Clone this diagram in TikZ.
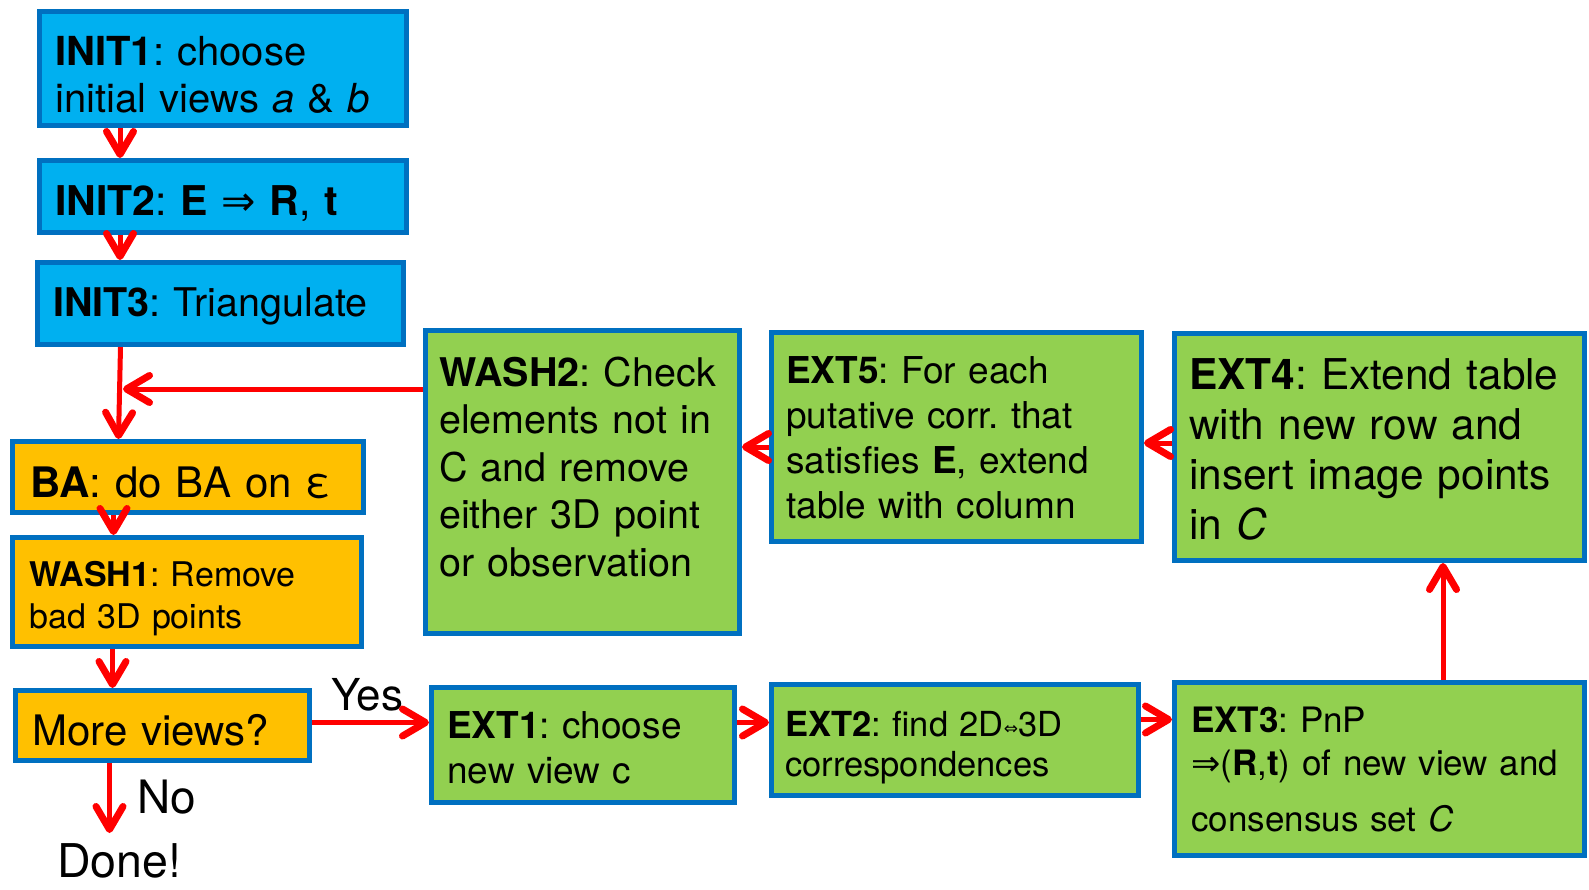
\documentclass[tikz,border=0pt]{standalone}
\usepackage{fontspec}
\setmainfont{TeX Gyre Heros}
\newfontfamily\symf{DejaVu Sans}
\usetikzlibrary{arrows.meta}
\definecolor{boxblue}{HTML}{00B0F0}
\definecolor{edgeblue}{HTML}{0070C0}
\definecolor{stageorange}{HTML}{FFC000}
\definecolor{stagegreen}{HTML}{92D050}
\definecolor{flowred}{HTML}{FF0000}
\newcommand\fs[2]{\fontsize{#1}{#2}\selectfont}
\frenchspacing

\begin{document}
\begin{tikzpicture}[x=1pt,y=-1pt,
  stagebox/.style={draw=edgeblue, line width=5pt, rectangle, inner sep=0pt},
  initbox/.style={stagebox, fill=boxblue},
  babox/.style={stagebox, fill=stageorange},
  extbox/.style={stagebox, fill=stagegreen},
  txt/.style={anchor=base west, inner sep=0pt, align=left},
  flow/.style={draw=flowred, line width=5pt,
    -{Straight Barb[length=23pt,width=27pt,line width=7pt,round]}}
]
\useasboundingbox (0,0) rectangle (1589,889);

% stage boxes (centre, size of the border's centre line)
\node[initbox, minimum width=367pt, minimum height=114pt] (init1) at (223,68.5) {};
\node[initbox, minimum width=367pt, minimum height=72pt]  (init2) at (223,196.5) {};
\node[initbox, minimum width=366pt, minimum height=82pt]  (init3) at (220.5,303.5) {};
\node[babox, minimum width=351pt, minimum height=71pt]   (ba)    at (188,477) {};
\node[babox, minimum width=349pt, minimum height=109pt]  (wash1) at (187,592) {};
\node[babox, minimum width=294pt, minimum height=70pt]   (more)  at (162.5,725.5) {};
\node[extbox, minimum width=314pt, minimum height=303pt] (wash2) at (582.5,482) {};
\node[extbox, minimum width=370pt, minimum height=209pt] (ext5)  at (956.5,437) {};
\node[extbox, minimum width=410pt, minimum height=227pt] (ext4)  at (1379.5,447) {};
\node[extbox, minimum width=303pt, minimum height=115pt] (ext1)  at (583,745) {};
\node[extbox, minimum width=367pt, minimum height=111pt] (ext2)  at (955,740) {};
\node[extbox, minimum width=410pt, minimum height=173pt] (ext3)  at (1379.5,769) {};

% box texts (first baseline, left edge)
\node[txt, text width=350pt, font=\fs{40}{47}] (t-init1) at (55,65)
  {\textbf{INIT1}: choose\\initial views \textit{a} \& \textit{b}};
\node[txt, text width=350pt, font=\fs{41}{47}] (t-init2) at (55,215)
  {\textbf{INIT2}: \textbf{E} {\symf ⇒} \textbf{R}, \textbf{t}};
\node[txt, text width=350pt, font=\fs{39.5}{47}] (t-init3) at (53,316)
  {\textbf{INIT3}: Triangulate};
\node[txt, text width=330pt, font=\fs{42}{47}] (t-ba) at (30,497)
  {\textbf{BA}: do BA on ε};
\node[txt, text width=330pt, font=\fs{34}{42}] (t-wash1) at (29,586)
  {\textbf{WASH1}: Remove\\bad 3D points};
\node[txt, text width=280pt, font=\fs{42}{47}] (t-more) at (32,745)
  {More views?};
\node[txt, text width=300pt, font=\fs{39.5}{47.6}] (t-wash2) at (439,386)
  {\textbf{WASH2}: Check\\elements not in\\C and remove\\either 3D point\\or observation};
\node[txt, text width=350pt, font=\fs{37}{45}] (t-ext5) at (786,383)
  {\textbf{EXT5}: For each\\putative corr. that\\satisfies \textbf{E}, extend\\table with column};
\node[txt, text width=395pt, font=\fs{42.4}{50}] (t-ext4) at (1189,389)
  {\textbf{EXT4}: Extend table\\with new row and\\insert image points\\in \textit{C}};
\node[txt, text width=290pt, font=\fs{37}{45}] (t-ext1) at (447,738)
  {\textbf{EXT1}: choose\\new view c};
\node[txt, text width=350pt, font=\fs{34.5}{40.5}] (t-ext2) at (785,736)
  {\textbf{EXT2}: find 2D\raisebox{2pt}{\symf\fs{17}{17}⇔}3D\\correspondences};
\node[txt, text width=395pt, font=\fs{35}{43}] (t-ext3) at (1191,732)
  {\textbf{EXT3}: PnP\\{\symf ⇒}(\textbf{R},\textbf{t}) of new view and\\[13pt]consensus set \textit{C}};

% branch labels and the end
\node[txt, font=\fs{44}{50}] (yes) at (331,710) {Yes};
\node[txt, font=\fs{46}{50}] (no) at (137,813) {No};
\node[txt, font=\fs{46.5}{50}] (done) at (57,877) {Done!};

% guide coordinates for the connectors
\coordinate (xa) at (120,0);
\coordinate (xb) at (120.5,0);
\coordinate (xc) at (118.5,0);
\coordinate (xd) at (113.5,0);
\coordinate (xe) at (112.5,0);
\coordinate (xf) at (1443,0);
\coordinate (join) at (123,389);
\coordinate (endtip) at (109.5,833);
\coordinate (yyes) at (0,722.5);
\coordinate (y12) at (0,722.5);
\coordinate (y23) at (0,719.5);
\coordinate (y45) at (0,443);
\coordinate (y52) at (0,447);

% connectors
\draw[flow] (init1.south -| xa) -- (init2.north -| xa);
\draw[flow] (init2.south -| xa) -- (init3.north -| xa);
\draw[flow] (init3.south -| xb) -- (ba.north -| xc);
\draw[flow] (wash2.west |- join) -- (join);
\draw[flow] (ba.south -| xd) -- (wash1.north -| xd);
\draw[flow] (wash1.south -| xe) -- (more.north -| xe);
\draw[flow] (more.east |- yyes) -- (ext1.west |- yyes);
\draw[flow] (more.south -| endtip) -- (endtip);
\draw[flow] (ext1.east |- y12) -- (ext2.west |- y12);
\draw[flow] (ext2.east |- y23) -- (ext3.west |- y23);
\draw[flow] (ext3.north -| xf) -- (ext4.south -| xf);
\draw[flow] (ext4.west |- y45) -- (ext5.east |- y45);
\draw[flow] (ext5.west |- y52) -- (wash2.east |- y52);
\end{tikzpicture}
\end{document}
